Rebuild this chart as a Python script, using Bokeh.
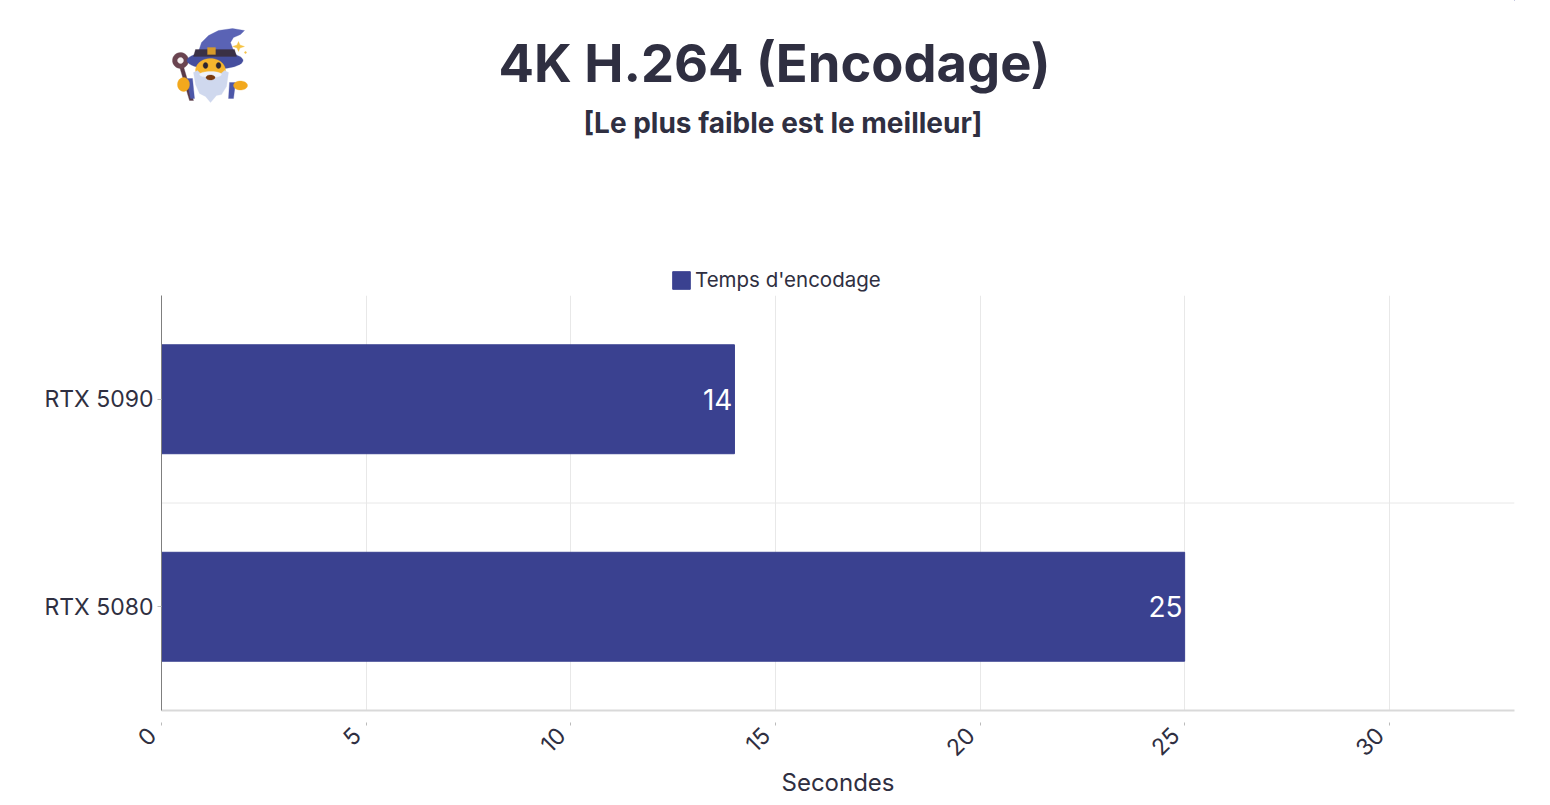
import numpy as np
from bokeh.core.properties import value
from bokeh.embed import file_html
from bokeh.layouts import column
from bokeh.resources import INLINE
from bokeh.plotting import figure
from bokeh.models import (ColumnDataSource, FactorRange, Range1d, FixedTicker, Label, LabelSet, Legend, LegendItem,
                          Span, PolyAnnotation)

categories = ["RTX 5080", "RTX 5090"]
encode_seconds = [25, 14]
x_ticks = [0, 5, 10, 15, 20, 25, 30]
series_name = "Temps d'encodage"
main_title = "4K H.264 (Encodage)"
sub_title = "[Le plus faible est le meilleur]"
x_label = "Secondes"

FONT = "Inter"
INK = "#2f2f41"
BAR = "#3a4190"

src = ColumnDataSource(dict(cat=categories, val=encode_seconds, txt=[str(v) for v in encode_seconds]))

HEAD_H = 295
LEFT = 161   # the column aligns the header's frame with the chart's frame

# ---------- main chart ----------
p = figure(width=1542, height=504, output_backend="svg", toolbar_location=None,
           y_range=FactorRange(factors=categories, range_padding=0),
           x_range=Range1d(0, 33.06),
           min_border_left=LEFT, min_border_right=28, min_border_top=0, min_border_bottom=87,
           outline_line_color=None, background_fill_color="white")

p.hbar(y="cat", left=0, right="val", height=0.525, source=src, fill_color=BAR, line_color=BAR, line_width=1)
p.add_layout(LabelSet(x="val", y="cat", text="txt", source=src, x_offset=-2, text_align="right",
                      text_baseline="middle", text_color="white", text_font=value(FONT), text_font_size="28px"))

xa = p.xaxis[0]
xa.ticker = FixedTicker(ticks=x_ticks)
xa.axis_label = x_label
xa.axis_label_text_font = FONT
xa.axis_label_text_font_style = "normal"
xa.axis_label_text_font_size = "24px"
xa.axis_label_text_color = INK
xa.axis_label_standoff = -7
xa.axis_line_color = "#d9d9d9"
xa.axis_line_width = 2
xa.major_tick_in = -12
xa.major_tick_out = 15
xa.major_tick_line_color = "#bbbbbb"
xa.minor_tick_line_color = None
xa.major_label_orientation = np.pi / 4
xa.major_label_standoff = -3
# two no-break spaces push each centred, rotated label along its own direction, away from its tick
xa.major_label_overrides = {v: f"{v}\u00a0\u00a0" for v in x_ticks}
xa.major_label_text_font = FONT
xa.major_label_text_font_size = "23px"
xa.major_label_text_color = INK

ya = p.yaxis[0]
ya.axis_line_color = "#7f7f7f"
ya.axis_line_width = 1
ya.major_tick_in = 0
ya.major_tick_out = 4
ya.major_tick_line_color = "#bbbbbb"
ya.minor_tick_line_color = None
ya.major_label_standoff = 4
ya.major_label_text_font = FONT
ya.major_label_text_font_size = "23px"
ya.major_label_text_color = INK

p.xgrid.ticker = FixedTicker(ticks=x_ticks)
p.xgrid.grid_line_color = "#e8e8e8"
p.ygrid.grid_line_color = None
# horizontal grid line on the boundary between the two category bands
p.add_layout(Span(location=1, dimension="width", line_color="#e8e8e8", line_width=1, level="underlay"))

# ---------- header: titles, icon, legend ----------
h = figure(width=1542, height=HEAD_H, output_backend="svg", toolbar_location=None,
           x_range=Range1d(0, 1), y_range=Range1d(0, 1), x_axis_type=None, y_axis_type=None,
           min_border=0, outline_line_color=None, background_fill_color="white")
h.grid.visible = False

h.add_layout(Label(x=498 - LEFT, y=HEAD_H - 62, x_units="screen", y_units="screen", text=main_title, text_font=FONT,
                   text_font_size="52.5px", text_font_style="bold", text_color=INK, text_baseline="middle"))
h.add_layout(Label(x=583 - LEFT, y=HEAD_H - 122, x_units="screen", y_units="screen", text=sub_title, text_font=FONT,
                   text_font_size="28px", text_font_style="bold", text_color=INK, text_baseline="middle"))

# the legend key's renderer lies outside the header's unit ranges: only its legend swatch shows
swatch = h.hbar(y=[encode_seconds[0]], left=[encode_seconds[1]], right=[encode_seconds[0]], height=0.5,
                fill_color=BAR, line_color=BAR)
leg = Legend(items=[LegendItem(label=series_name, renderers=[swatch])], location=(509, 3),
             orientation="horizontal", border_line_color=None, background_fill_alpha=0,
             glyph_width=22, glyph_height=22, label_text_font=FONT, label_text_font_size="20.5px",
             label_text_color=INK, padding=0, margin=0, label_standoff=3, spacing=0)
h.add_layout(leg, "center")


def poly(xs, ys, color):
    h.add_layout(PolyAnnotation(xs=[float(v) - LEFT for v in xs], ys=[HEAD_H - float(v) for v in ys],
                                xs_units="screen", ys_units="screen", fill_color=color, fill_alpha=1,
                                line_color=color, line_width=1, level="overlay"))


def epoly(cx, cy, rx, ry, color):
    t = np.linspace(0, 2 * np.pi, 40)
    poly(cx + rx * np.cos(t), cy + ry * np.sin(t), color)


# staff
poly([179, 183, 193, 189], [66, 66, 100, 100], "#5a3a48")
epoly(180, 60, 8, 8, "#6a4450")
epoly(180, 60, 3, 3, "#f4f0f0")
# sleeves
poly([186, 192, 194, 190], [78, 78, 98, 98], "#4d57a8")
poly([229, 235, 233, 228], [82, 82, 98, 98], "#4d57a8")
# hat cone, band, buckle, brim
poly([197, 201, 208, 218, 232, 244, 240, 233, 230, 233, 237, 193],
     [54, 42, 35, 30, 28, 30, 34, 37, 42, 50, 56, 56], "#5a63b5")
epoly(214.5, 60, 28, 8.5, "#454e9e")
poly([195, 234, 236, 193], [49, 49, 56, 56], "#3a3045")
poly([207, 215, 215, 207], [47, 47, 54, 54], "#d79a2b")
# face, beard, moustache, mouth, eyes
epoly(210, 70, 15, 12, "#f6b52e")
poly([193, 197, 203, 217, 224, 228, 226, 221, 216, 210, 205, 199, 195],
     [72, 70, 76, 76, 70, 72, 86, 94, 95, 102, 96, 93, 84], "#cfd8ee")
epoly(210, 74, 11, 3, "#eef2fa")
epoly(210, 77, 4.5, 2.5, "#7a3a10")
epoly(205, 65, 2.4, 3, "#2c2430")
epoly(218, 65, 2.4, 3, "#2c2430")
# hands
epoly(183, 84, 6, 7, "#f2a81d")
epoly(240, 85, 7, 4.5, "#f2a81d")
# sparkles
poly([238, 239.5, 244, 239.5, 238, 236.5, 232, 236.5], [41, 44.5, 46, 47.5, 51, 47.5, 46, 44.5], "#f6c343")
epoly(245, 52, 1, 1, "#f6c343")

open("out.html", "w").write(file_html(column(h, p), INLINE))
